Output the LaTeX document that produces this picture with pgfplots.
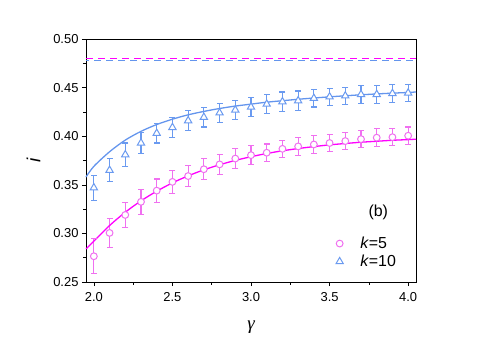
\documentclass[border=0pt]{standalone}
\usepackage{fontspec}
\setmainfont{Liberation Sans}
\newfontfamily\seriffont{Liberation Serif}
\usepackage{pgfplots}
\pgfplotsset{compat=1.18}
\definecolor{mag}{HTML}{FF00FF}
\definecolor{magl}{HTML}{F070F0}
\definecolor{blu}{HTML}{6495ED}
\definecolor{blul}{HTML}{6A9AF0}
\begin{document}
\begin{tikzpicture}[x=1bp,y=1bp]
\path[use as bounding box] (-86,-58) rectangle (399,282);
\begin{axis}[
  at={(0,0)}, anchor=south west,
  width=330bp, height=243bp, scale only axis,
  xmin=1.95, xmax=4.05, ymin=0.25, ymax=0.50,
  xtick={2.0,2.5,3.0,3.5,4.0}, minor x tick num=1,
  ytick={0.25,0.30,0.35,0.40,0.45,0.50}, minor y tick num=1,
  tick align=outside, xtick pos=bottom, ytick pos=left,
  major tick length=4bp, minor tick length=2.5bp,
  tick style={black, line width=0.6pt},
  axis line style={line width=0.8pt},
  /pgf/number format/assume math mode=true,
  xticklabel style={yshift=-3bp, /pgf/number format/.cd, fixed, fixed zerofill, precision=1},
  yticklabel style={/pgf/number format/.cd, fixed, fixed zerofill, precision=2},
  ticklabel style={font=\fontsize{13}{15}\selectfont},
  xlabel={{\seriffont\itshape γ}}, ylabel={\textit{i}},
  label style={font=\fontsize{19}{21}\selectfont},
  xlabel style={yshift=-12bp},
  ylabel style={yshift=6bp},
  legend style={at={(0.955,0.04)}, anchor=south east, draw=none, fill=none,
    font=\fontsize{16}{18}\selectfont, row sep=1pt},
  legend cell align=left,
  unbounded coords=jump,
  clip=false,
]
% reference dashed lines
\addplot[blu, line width=1.4pt, dash pattern=on 7bp off 5bp, dash phase=4bp, forget plot] coordinates {(1.95,0.4778) (4.05,0.4778)};
\addplot[mag, line width=1.4pt, dash pattern=on 7bp off 5bp, forget plot] coordinates {(1.95,0.4797) (4.05,0.4797)};
% error bars k=5 (low, high)
\addplot[magl, line width=1.1bp, mark=-, mark size=3bp, forget plot] coordinates {
(2.0,0.2585) (2.0,0.2945) (2.0,nan) (2.1,0.2855) (2.1,0.3155) (2.1,nan)
(2.2,0.3060) (2.2,0.3320) (2.2,nan) (2.3,0.3195) (2.3,0.3455) (2.3,nan)
(2.4,0.3320) (2.4,0.3560) (2.4,nan) (2.5,0.3410) (2.5,0.3650) (2.5,nan)
(2.6,0.3480) (2.6,0.3700) (2.6,nan) (2.7,0.3550) (2.7,0.3770) (2.7,nan)
(2.8,0.3610) (2.8,0.3810) (2.8,nan) (2.9,0.3670) (2.9,0.3870) (2.9,nan)
(3.0,0.3705) (3.0,0.3905) (3.0,nan) (3.1,0.3740) (3.1,0.3920) (3.1,nan)
(3.2,0.3780) (3.2,0.3960) (3.2,nan) (3.3,0.3805) (3.3,0.3985) (3.3,nan)
(3.4,0.3825) (3.4,0.4005) (3.4,nan) (3.5,0.3840) (3.5,0.4020) (3.5,nan)
(3.6,0.3860) (3.6,0.4040) (3.6,nan) (3.7,0.3880) (3.7,0.4060) (3.7,nan)
(3.8,0.3895) (3.8,0.4075) (3.8,nan) (3.9,0.3900) (3.9,0.4080) (3.9,nan)
(4.0,0.3915) (4.0,0.4095)};
% error bars k=10 (low, high)
\addplot[blul, line width=1.1bp, mark=-, mark size=3bp, forget plot] coordinates {
(2.0,0.3340) (2.0,0.3600) (2.0,nan) (2.1,0.3530) (2.1,0.3770) (2.1,nan)
(2.2,0.3690) (2.2,0.3930) (2.2,nan) (2.3,0.3820) (2.3,0.4040) (2.3,nan)
(2.4,0.3930) (2.4,0.4130) (2.4,nan) (2.5,0.3990) (2.5,0.4190) (2.5,nan)
(2.6,0.4060) (2.6,0.4260) (2.6,nan) (2.7,0.4095) (2.7,0.4295) (2.7,nan)
(2.8,0.4140) (2.8,0.4340) (2.8,nan) (2.9,0.4170) (2.9,0.4370) (2.9,nan)
(3.0,0.4200) (3.0,0.4400) (3.0,nan) (3.1,0.4230) (3.1,0.4430) (3.1,nan)
(3.2,0.4255) (3.2,0.4455) (3.2,nan) (3.3,0.4265) (3.3,0.4465) (3.3,nan)
(3.4,0.4300) (3.4,0.4480) (3.4,nan) (3.5,0.4315) (3.5,0.4495) (3.5,nan)
(3.6,0.4325) (3.6,0.4505) (3.6,nan) (3.7,0.4340) (3.7,0.4520) (3.7,nan)
(3.8,0.4340) (3.8,0.4520) (3.8,nan) (3.9,0.4350) (3.9,0.4530) (3.9,nan)
(4.0,0.4355) (4.0,0.4535)};
% fits
\addplot[mag, line width=1.3pt, smooth, forget plot] coordinates {
(1.95,0.2840) (2.0,0.2920) (2.1,0.3081) (2.2,0.3218) (2.3,0.3335) (2.4,0.3434)
(2.5,0.3520) (2.6,0.3592) (2.7,0.3654) (2.8,0.3706) (2.9,0.3751) (3.0,0.3789)
(3.1,0.3822) (3.2,0.3850) (3.3,0.3873) (3.4,0.3893) (3.5,0.3911) (3.6,0.3925)
(3.7,0.3938) (3.8,0.3948) (3.9,0.3958) (4.0,0.3965) (4.05,0.3969)};
\addplot[blu, line width=1.3pt, smooth, forget plot] coordinates {
(1.95,0.3580) (2.0,0.3690) (2.1,0.3840) (2.2,0.3960) (2.3,0.4050) (2.4,0.4120)
(2.5,0.4175) (2.6,0.4220) (2.7,0.4255) (2.8,0.4285) (2.9,0.4310) (3.0,0.4330)
(3.1,0.4350) (3.2,0.4365) (3.3,0.4380) (3.4,0.4393) (3.5,0.4405) (3.6,0.4416)
(3.7,0.4426) (3.8,0.4435) (3.9,0.4443) (4.0,0.4450) (4.05,0.4455)};
% data k=5
\addplot[magl, only marks, mark=*, mark size=3.4bp, line width=1bp,
  mark options={fill=white, draw=magl}]
coordinates {
(2.0,0.2765) (2.1,0.3005) (2.2,0.3190) (2.3,0.3325) (2.4,0.3440) (2.5,0.3530)
(2.6,0.3590) (2.7,0.3660) (2.8,0.3710) (2.9,0.3770) (3.0,0.3805) (3.1,0.3830)
(3.2,0.3870) (3.3,0.3895) (3.4,0.3915) (3.5,0.3930) (3.6,0.3950) (3.7,0.3970)
(3.8,0.3985) (3.9,0.3990) (4.0,0.4005)};
\addlegendentry{\hspace*{15bp}\textit{k}=5}
% data k=10
\addplot[blul, only marks, mark=triangle*, mark size=4.2bp, line width=1bp,
  mark options={fill=white, draw=blul}]
coordinates {
(2.0,0.3470) (2.1,0.3650) (2.2,0.3810) (2.3,0.3930) (2.4,0.4030) (2.5,0.4090)
(2.6,0.4160) (2.7,0.4195) (2.8,0.4240) (2.9,0.4270) (3.0,0.4300) (3.1,0.4330)
(3.2,0.4355) (3.3,0.4365) (3.4,0.4390) (3.5,0.4405) (3.6,0.4415) (3.7,0.4430)
(3.8,0.4430) (3.9,0.4440) (4.0,0.4445)};
\addlegendentry{\hspace*{15bp}\textit{k}=10}
\node[font=\fontsize{16}{18}\selectfont] at (axis cs:3.81,0.322) {(b)};
\end{axis}
\end{tikzpicture}
\end{document}
